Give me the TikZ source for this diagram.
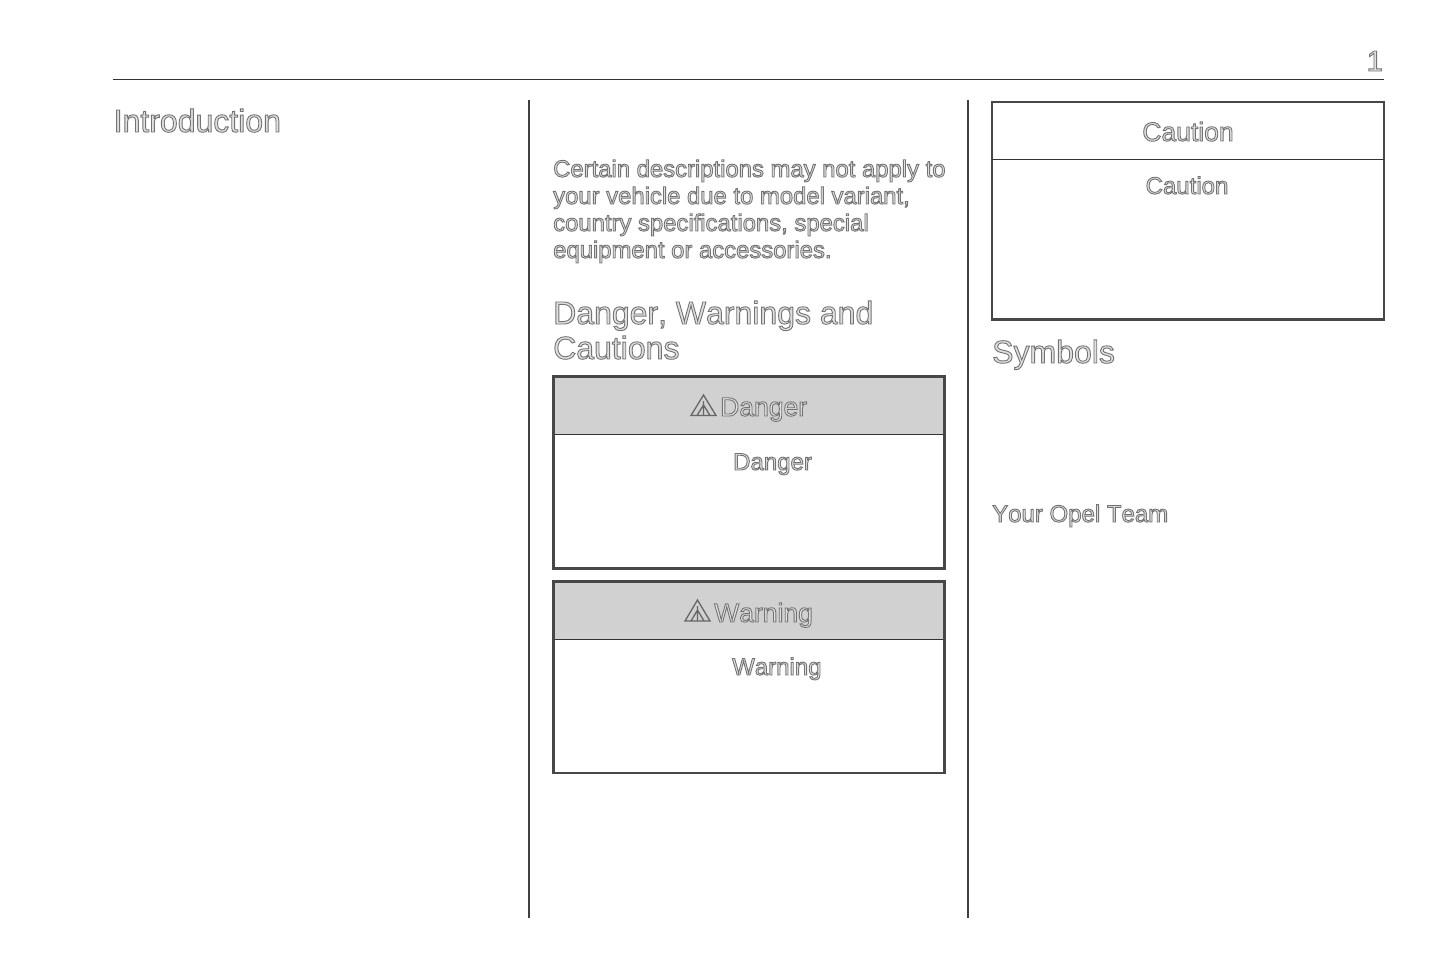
\documentclass[tikz,border=0pt]{standalone}
\usepackage{fontspec}
\setmainfont[Kerning=Off]{Liberation Sans}
\newcommand{\holl}[1]{\special{pdf:code 0.45 G 0.88 g 2 Tr 0.9 w}#1\special{pdf:code 0 Tr 0 G 0 g}}
\newcommand{\fs}[1]{\fontsize{#1}{#1}\selectfont}
\tikzset{
  txt/.style={inner sep=0pt,anchor=base west,align=left},
  ctr/.style={inner sep=0pt,anchor=base},
  h1/.style={txt,font=\fs{32}},
  bodyt/.style={txt,font=\fs{24}},
  headt/.style={ctr,font=\fs{26.5}},
  rulel/.style={line width=1.4pt,color=black!80},
  divl/.style={line width=1.3pt,color=black!75},
  outerb/.style={draw=black!72,line width=2.4pt,inner sep=0pt,outer sep=0pt,anchor=north west},
  headb/.style={fill=black!18,draw=black!80,line width=1.6pt,inner sep=0pt,outer sep=0pt,anchor=north west},
  tri/.style={draw=black!60,line width=1.3pt,line join=miter},
}
\begin{document}
\begin{tikzpicture}[x=1pt,y=-1pt]
\useasboundingbox (0,0) rectangle (1434,968);
% header rule and page number
\coordinate (ruleL) at (113,79.5);
\coordinate (ruleR) at (1384,79.5);
\draw[rulel] (ruleL) -- (ruleR);
\node[inner sep=0pt,anchor=base east,font=\fs{29}] (pageno) at (1383,71) {\holl{1}};
% column dividers
\coordinate (d1t) at (529,100); \coordinate (d1b) at (529,918);
\coordinate (d2t) at (968,100); \coordinate (d2b) at (968,918);
\draw[divl] (d1t) -- (d1b);
\draw[divl] (d2t) -- (d2b);
% column 1
\node[h1] (intro) at (113.5,132) {\holl{Introduction}};
% column 2
\node[txt,font=\fs{23.85}] (p1) at (553,177) {\holl{Certain descriptions may not apply to}};
\node[txt,font=\fs{23.85}] (p2) at (553,204) {\holl{your vehicle due to model variant,}};
\node[txt,font=\fs{23.85}] (p3) at (553,231) {\holl{country specifications, special}};
\node[txt,font=\fs{23.85}] (p4) at (553,258) {\holl{equipment or accessories.}};
\node[h1] (dw1) at (553,324) {\holl{Danger, Warnings and}};
\node[h1] (dw2) at (553,359) {\holl{Cautions}};
% danger box
\node[headb,minimum width=391pt,minimum height=58pt] (dh) at (553.5,376.5) {};
\node[outerb,minimum width=391pt,minimum height=192pt] (db) at (553.5,376.5) {};
\draw[tri] (703.5,395) -- (691,415.5) -- (716,415.5) -- cycle (703.5,401) -- (703.5,415.5) (697,415.5) -- (703.5,405) -- (710,415.5);
\node[ctr,font=\fs{26.5},anchor=base west] (dt) at (720,416) {\holl{Danger}};
\node[txt,font=\fs{24}] (dbt) at (733,470) {\holl{Danger}};
% warning box
\node[headb,minimum width=391pt,minimum height=58pt] (wh) at (553.5,581.5) {};
\node[outerb,minimum width=391pt,minimum height=191.5pt] (wb) at (553.5,581.5) {};
\draw[tri] (697.5,600) -- (685,621) -- (710,621) -- cycle (697.5,606) -- (697.5,621) (691,621) -- (697.5,610) -- (704,621);
\node[ctr,font=\fs{26.5},anchor=base west] (wt) at (714,622) {\holl{Warning}};
\node[txt,font=\fs{24}] (wbt) at (732,675) {\holl{Warning}};
% caution box
\node[outerb,minimum width=392pt,minimum height=217.5pt] (cb) at (992,102) {};
\coordinate (cl) at (992,159.5); \coordinate (cr) at (1384,159.5);
\draw[line width=1.6pt,color=black!80] (cl) -- (cr);
\node[headt] (ct) at (1188,141) {\holl{Caution}};
\node[ctr,font=\fs{24}] (cbt) at (1187,194) {\holl{Caution}};
% column 3
\node[h1] (sym) at (992,363) {\holl{Symbols}};
\node[bodyt] (team) at (992,522) {\holl{Your Opel Team}};
\end{tikzpicture}
\end{document}
